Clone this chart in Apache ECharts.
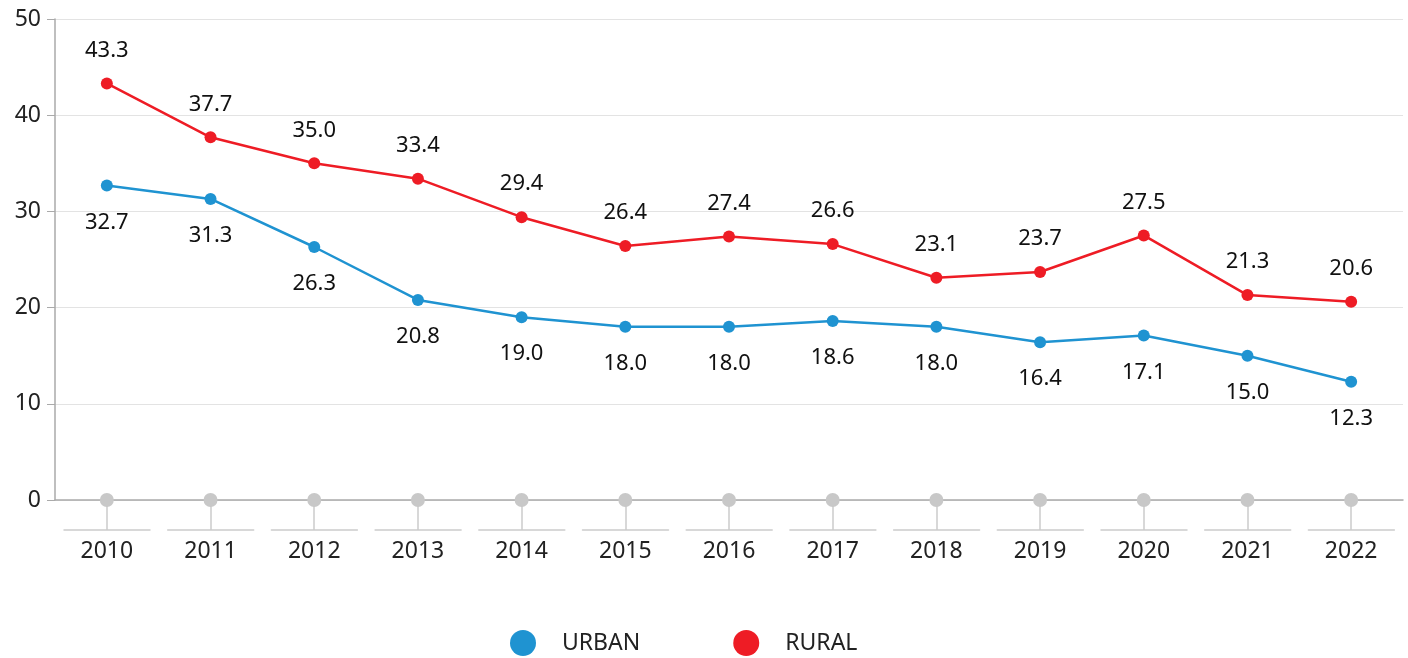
<!DOCTYPE html>
<html><head><meta charset="utf-8">
<script src="https://cdn.jsdelivr.net/npm/echarts@6/dist/echarts.min.js"></script>
<style>html,body{margin:0;padding:0;background:#fff}#c{width:1408px;height:658px}</style>
</head><body><div id="c"></div>
<script>
const years = ['2010','2011','2012','2013','2014','2015','2016','2017','2018','2019','2020','2021','2022'];
const urban = [32.7,31.3,26.3,20.8,19.0,18.0,18.0,18.6,18.0,16.4,17.1,15.0,12.3];
const rural = [43.3,37.7,35.0,33.4,29.4,26.4,27.4,26.6,23.1,23.7,27.5,21.3,20.6];
const baseline = [0,0,0,0,0,0,0,0,0,0,0,0,0];
const yTicks = [0,10,20,30,40,50];

const font = 'Noto Sans';
const chart = echarts.init(document.getElementById('c'));
chart.setOption({
  animation: false,
  textStyle: {fontFamily: font},
  grid: {left: 55, right: 5, top: 19, bottom: 158},
  legend: {
    top: 630, left: 510, padding: 0, itemGap: 93, itemWidth: 26, itemHeight: 26,
    icon: 'circle', data: ['URBAN','RURAL'],
    textStyle: {fontSize: 23, color: '#222', fontFamily: font, padding: [0,0,0,21]}
  },
  xAxis: [{
    type: 'category', data: years, position: 'bottom',
    axisLine: {lineStyle: {color: '#aaa', width: 1.5}},
    axisTick: {show: false},
    axisLabel: {show: false}
  }, {
    type: 'category', data: years, position: 'bottom', offset: 30,
    axisLine: {lineStyle: {color: '#ccc', width: 1.5, type: [86, 17.7], dashOffset: 94.7}},
    axisTick: {show: true, inside: true, alignWithLabel: true, length: 30, lineStyle: {color: '#ccc', width: 1.5}},
    axisLabel: {fontSize: 23, color: '#222', margin: 10, fontFamily: font}
  }],
  yAxis: {
    type: 'value', min: 0, max: 50, interval: 10,
    axisLine: {show: true, lineStyle: {color: '#aaa', width: 1.5}},
    axisTick: {show: true, length: 8, lineStyle: {color: '#aaa'}},
    axisLabel: {fontSize: 23, color: '#222', margin: 14, fontFamily: font,
      formatter: v => yTicks.includes(v) ? String(v) : ''},
    splitLine: {lineStyle: {color: '#e3e3e3', width: 1}}
  },
  series: [{
    name: 'base', type: 'line', data: baseline, xAxisIndex: 0,
    symbol: 'circle', symbolSize: 14, lineStyle: {width: 0, opacity: 0},
    itemStyle: {color: '#c8c8c8'}, silent: true, z: 3
  }, {
    name: 'URBAN', type: 'line', data: urban, xAxisIndex: 0,
    symbol: 'circle', symbolSize: 12,
    lineStyle: {width: 2.5, color: '#1f93d1'}, itemStyle: {color: '#1f93d1'},
    label: {show: true, position: 'bottom', distance: 20, fontSize: 22, color: '#111',
      fontFamily: font, formatter: p => p.value.toFixed(1)}
  }, {
    name: 'RURAL', type: 'line', data: rural, xAxisIndex: 0,
    symbol: 'circle', symbolSize: 12,
    lineStyle: {width: 2.5, color: '#ee1c25'}, itemStyle: {color: '#ee1c25'},
    label: {show: true, position: 'top', distance: 16, fontSize: 22, color: '#111',
      fontFamily: font, formatter: p => p.value.toFixed(1)}
  }]
});
</script></body></html>
